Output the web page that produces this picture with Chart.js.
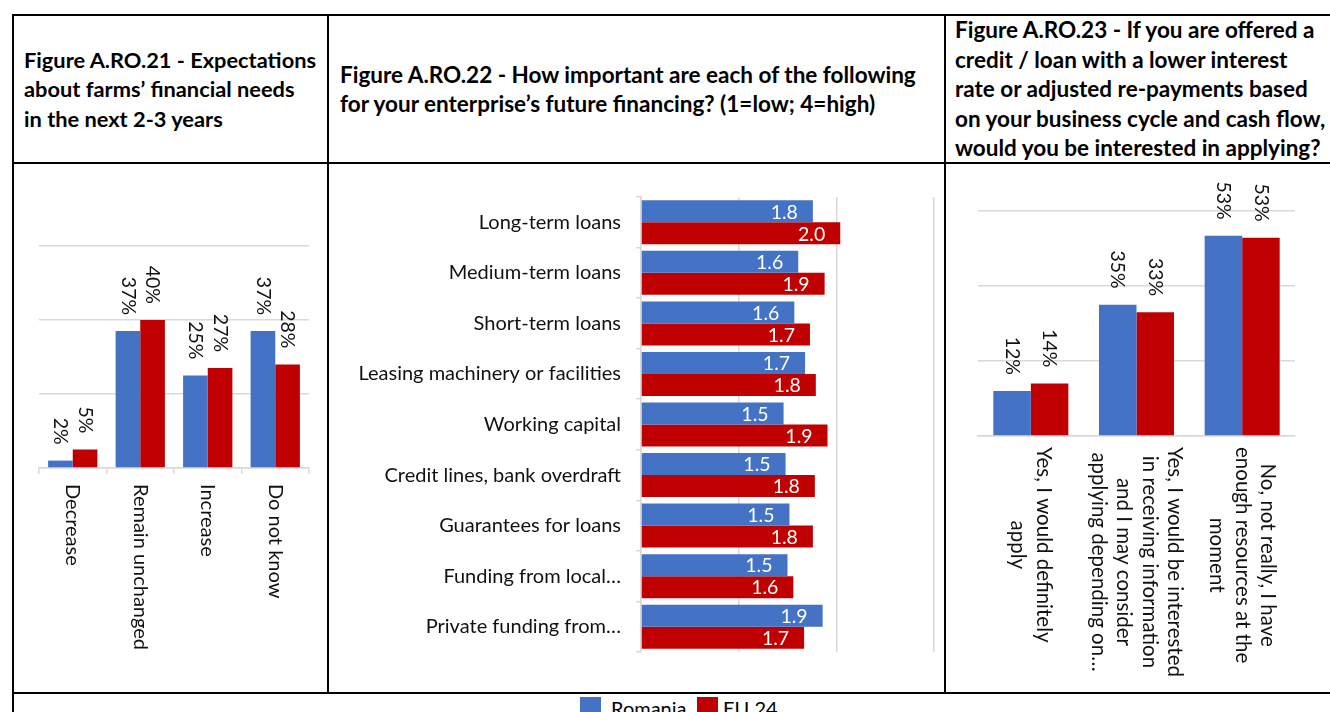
<!DOCTYPE html>
<html><head><meta charset="utf-8">
<script src="https://cdn.jsdelivr.net/npm/chart.js@4.4.1/dist/chart.umd.min.js"></script>
<style>
html,body{margin:0;padding:0;background:#fff;width:1330px;height:712px;overflow:hidden;font-family:Lato,"Noto Sans",sans-serif;color:#000;}
.line{position:absolute;background:#000;}
.hdr{position:absolute;top:16px;height:146px;display:flex;align-items:center;font-weight:bold;font-size:22.5px;line-height:29.5px;white-space:nowrap;}
.cv{position:absolute;}
.sw{position:absolute;width:21px;height:20px;}
.lt{position:absolute;font-size:20px;line-height:20px;white-space:nowrap;}
</style></head><body>
<div class="line" style="left:12px;top:14px;width:1330px;height:2px"></div>
<div class="line" style="left:12px;top:162px;width:1330px;height:2px"></div>
<div class="line" style="left:12px;top:692px;width:1330px;height:2px"></div>
<div class="line" style="left:12px;top:14px;width:2px;height:700px"></div>
<div class="line" style="left:327px;top:14px;width:2px;height:680px"></div>
<div class="line" style="left:944px;top:14px;width:2px;height:680px"></div>

<div class="hdr" style="left:24px;width:300px;font-size:21.8px">Figure A.RO.21 - Expectations<br>about farms’ financial needs<br>in the next 2-3 years</div>
<div class="hdr" style="left:340px;width:600px">Figure A.RO.22 - How important are each of the following<br>for your enterprise’s future financing? (1=low; 4=high)</div>
<div class="hdr" style="left:955px;width:380px">Figure A.RO.23 - If you are offered a<br>credit / loan with a lower interest<br>rate or adjusted re-payments based<br>on your business cycle and cash flow,<br>would you be interested in applying?</div>

<canvas id="c1" class="cv" width="313" height="528" style="left:14px;top:164px"></canvas>
<canvas id="c2" class="cv" width="615" height="528" style="left:329px;top:164px"></canvas>
<canvas id="c3" class="cv" width="384" height="528" style="left:946px;top:164px"></canvas>

<div class="sw" style="left:580px;top:697px;background:#4472C4"></div>
<div class="lt" style="left:611px;top:698px">Romania</div>
<div class="sw" style="left:697px;top:697px;background:#C00000"></div>
<div class="lt" style="left:723px;top:698px">EU 24</div>

<script>
// ---- Data ----
const seriesNames = ['Romania', 'EU 24'];

const needsCategories = ['Decrease', 'Remain unchanged', 'Increase', 'Do not know'];
const needsRomania = [2, 37, 25, 37];
const needsEU24 = [5, 40, 27, 28];

const importanceCategories = ['Long-term loans', 'Medium-term loans', 'Short-term loans',
  'Leasing machinery or facilities', 'Working capital', 'Credit lines, bank overdraft',
  'Guarantees for loans', 'Funding from local…', 'Private funding from…'];
const importanceRomania = [1.76, 1.61, 1.57, 1.68, 1.46, 1.48, 1.52, 1.50, 1.86];
const importanceEU24 = [2.04, 1.88, 1.73, 1.79, 1.91, 1.78, 1.76, 1.56, 1.67];

const interestCategories = [
  ['Yes, I would definitely', 'apply'],
  ['Yes, I would be interested', 'in receiving information', 'and I may consider', 'applying depending on…'],
  ['No, not really, I have', 'enough resources at the', 'moment']
];
const interestRomania = [12, 35, 53.4];
const interestEU24 = [14, 33, 52.9];

// ---- Styles ----
const BLUE = '#4472C4', RED = '#C00000', GRID = '#d9d9d9';
const FONT = 'Lato, "Noto Sans", sans-serif';

const dataLabels = {
  id: 'dataLabels',
  afterDatasetsDraw(chart, args, o) {
    if (!o || !o.mode) return;
    const ctx = chart.ctx;
    chart.data.datasets.forEach((ds, di) => {
      chart.getDatasetMeta(di).data.forEach((bar, i) => {
        const txt = o.format(ds.data[i]);
        ctx.save();
        ctx.font = o.font;
        ctx.fillStyle = o.color;
        ctx.textBaseline = 'middle';
        if (o.mode === 'rot') {
          ctx.translate(bar.x, bar.y - o.gap);
          ctx.rotate(Math.PI / 2);
          ctx.textAlign = 'right';
          ctx.fillText(txt, 0, 0);
        } else {
          ctx.textAlign = 'right';
          ctx.fillText(txt, bar.x - o.gap, bar.y + 1);
        }
        ctx.restore();
      });
    });
  }
};

const rotLabels = {
  id: 'rotLabels',
  afterDraw(chart, args, o) {
    if (!o || !o.font) return;
    const xs = chart.scales.x, ctx = chart.ctx;
    chart.data.labels.forEach((lab, i) => {
      const lines = Array.isArray(lab) ? lab : [lab];
      const x = xs.getPixelForValue(i);
      ctx.save();
      ctx.font = o.font;
      ctx.fillStyle = o.color;
      const maxW = Math.max(...lines.map(l => ctx.measureText(l).width));
      ctx.translate(x, xs.top + o.gap + (o.center ? maxW / 2 : 0));
      ctx.rotate(Math.PI / 2);
      ctx.textAlign = o.center ? 'center' : 'left';
      ctx.textBaseline = 'middle';
      const n = lines.length;
      lines.forEach((l, k) => ctx.fillText(l, 0, (k - (n - 1) / 2) * o.lineH));
      ctx.restore();
    });
  }
};

function vertChart(id, labels, a, b, pad, catPct, tickMarks, lblGap, center, lblSize) {
  return new Chart(document.getElementById(id), {
    type: 'bar',
    data: {
      labels: labels,
      datasets: [
        { label: seriesNames[0], data: a, backgroundColor: BLUE },
        { label: seriesNames[1], data: b, backgroundColor: RED }
      ]
    },
    options: {
      responsive: false, animation: false, devicePixelRatio: 1,
      layout: { padding: pad },
      datasets: { bar: { categoryPercentage: catPct, barPercentage: 1 } },
      scales: {
        x: {
          ticks: { display: false },
          border: { display: true, color: GRID, width: 1.5 },
          grid: { drawOnChartArea: false, drawTicks: tickMarks, tickLength: 6, color: GRID, lineWidth: 1.5, offset: true },
          afterFit: s => { s.height = 0; }
        },
        y: {
          min: 0, max: 60,
          ticks: { display: false, stepSize: 20 },
          border: { display: false },
          grid: { color: GRID, lineWidth: 1.5, drawTicks: false },
          afterFit: s => { s.width = 0; }
        }
      },
      plugins: {
        legend: { display: false }, tooltip: { enabled: false },
        dataLabels: { mode: 'rot', font: '19.5px ' + FONT, color: '#111', gap: 16, format: v => Math.round(v) + '%' },
        rotLabels: { font: lblSize + 'px ' + FONT, color: '#111', gap: lblGap, lineH: 25.5, center: center }
      }
    },
    plugins: [dataLabels, rotLabels]
  });
}

vertChart('c1', needsCategories, needsRomania, needsEU24,
  { left: 25, right: 18, top: 82, bottom: 224 }, 0.73, true, 16, false, 20);

vertChart('c3', interestCategories, interestRomania, interestEU24,
  { left: 32, right: 35, top: 47, bottom: 256 }, 0.71, false, 11, true, 20.5);

new Chart(document.getElementById('c2'), {
  type: 'bar',
  data: {
    labels: importanceCategories,
    datasets: [
      { label: seriesNames[0], data: importanceRomania, backgroundColor: BLUE },
      { label: seriesNames[1], data: importanceEU24, backgroundColor: RED }
    ]
  },
  options: {
    indexAxis: 'y',
    responsive: false, animation: false, devicePixelRatio: 1,
    layout: { padding: { left: 0, right: 10, top: 33, bottom: 40 } },
    datasets: { bar: { categoryPercentage: 0.87, barPercentage: 1 } },
    scales: {
      y: {
        ticks: { autoSkip: false, padding: 15, color: '#111', font: { family: FONT, size: 20 } },
        border: { display: true, color: GRID, width: 1.5 },
        grid: { drawOnChartArea: false, drawTicks: true, tickLength: 5, color: GRID, lineWidth: 1.5, offset: true },
        afterFit: s => { s.width = 312; }
      },
      x: {
        min: 0, max: 3,
        ticks: { display: false, stepSize: 1 },
        border: { display: false },
        grid: { color: GRID, lineWidth: 1.5, drawTicks: false },
        afterFit: s => { s.height = 0; }
      }
    },
    plugins: {
      legend: { display: false }, tooltip: { enabled: false },
      dataLabels: { mode: 'in', font: '19.5px ' + FONT, color: '#fff', gap: 15, format: v => v.toFixed(1) }
    }
  },
  plugins: [dataLabels]
});
</script>
</body></html>
